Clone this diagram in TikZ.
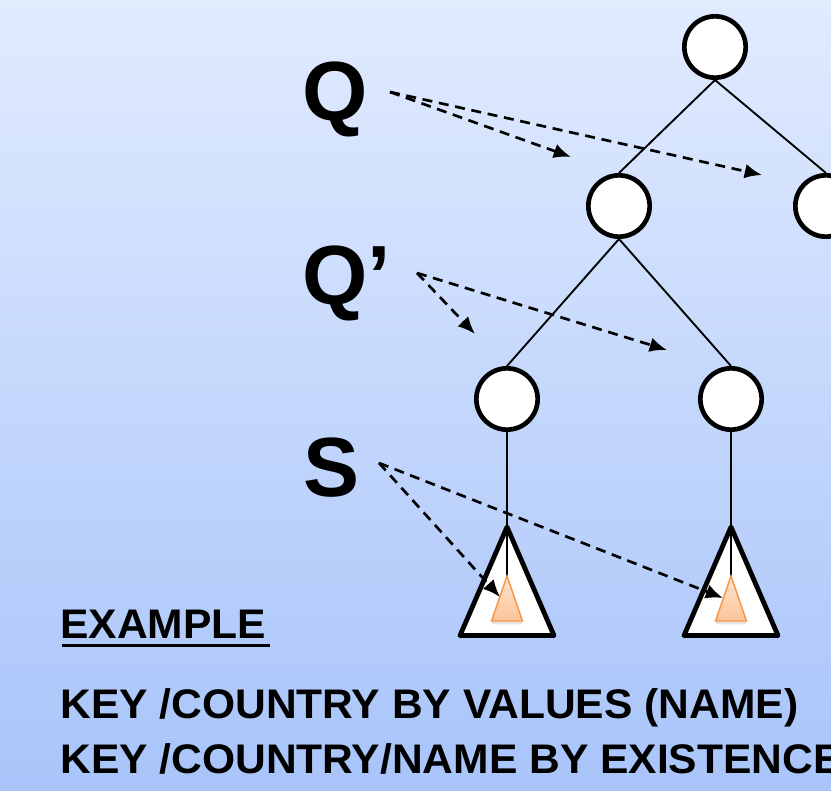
\documentclass[tikz,border=0pt]{standalone}
\usepackage{fontspec}
\setmainfont{Liberation Sans}
\newfontfamily\keyfont{Liberation Sans}[FakeStretch=1.03]
\usetikzlibrary{arrows.meta,shadows}

\definecolor{skytop}{RGB}{225,235,254}
\definecolor{skybot}{RGB}{168,196,250}
\definecolor{peachtop}{RGB}{255,228,206}
\definecolor{peachbot}{RGB}{252,196,152}
\definecolor{peachline}{RGB}{247,150,70}

\tikzset{
	treenode/.style={circle, draw, fill=white, line width=3.5pt, minimum size=46pt, inner sep=0pt},
	treeline/.style={line width=1.4pt},
	subtree/.style={draw, fill=white, line width=3.6pt, line join=round},
	leaf/.style={draw=peachline, line width=1.1pt, top color=peachtop, bottom color=peachbot,
		drop shadow={opacity=.2, shadow xshift=0pt, shadow yshift=-2.5pt}},
	probe/.style={line width=2pt, dash pattern=on 7.5pt off 5pt, -{Latex[length=13pt,width=11pt]}},
	bigletter/.style={font=\fontsize{63}{70}\selectfont\bfseries, inner sep=0pt, anchor=base west},
	keytext/.style={font=\keyfont\fontsize{31}{41}\selectfont\bfseries, inner sep=0pt, anchor=base west}
}

\begin{document}
\begin{tikzpicture}[x=0.75pt, y=-0.75pt]

	\useasboundingbox (0,0) rectangle (831,791);
	\clip (0,0) rectangle (831,791);
	\shade[top color=skytop, bottom color=skybot] (0,0) rectangle (831,791);

	% subtrees below the leaves
	\draw[subtree] (507,527) -- (554,635.5) -- (460,635.5) -- cycle;
	\draw[subtree] (731,527) -- (778,635.5) -- (684,635.5) -- cycle;

	% tree
	\node[treenode] (root) at (715,47) {};
	\node[treenode] (midl) at (619,206) {};
	\node[treenode] (midr) at (826,206) {};
	\node[treenode] (lowl) at (507,399) {};
	\node[treenode] (lowr) at (731,399) {};

	\draw[treeline] (root.south) -- (midl.north);
	\draw[treeline] (root.south) -- (midr.north);
	\draw[treeline] (midl.south) -- (lowl.north);
	\draw[treeline] (midl.south) -- (lowr.north);

	% matched parts
	\coordinate (tipl) at (507,576);
	\coordinate (tipr) at (731,576);
	\draw[treeline] (lowl.south) -- (tipl);
	\draw[treeline] (lowr.south) -- (tipr);
	\path[leaf] (tipl) -- (522.5,621) -- (491.5,621) -- cycle;
	\path[leaf] (tipr) -- (746.5,621) -- (715.5,621) -- cycle;

	% labels
	\node[bigletter] (q) at (302,121) {Q};
	\node[bigletter] (qq) at (302,305) {Q’};
	\node[bigletter] (s) at (303,496) {S};

	\coordinate (qfrom) at (390,92);
	\coordinate (qa) at (571,157);
	\coordinate (qb) at (762,175);
	\coordinate (qqfrom) at (417,273);
	\coordinate (qqa) at (475,334);
	\coordinate (qqb) at (667,350);
	\coordinate (sfrom) at (379,463);
	\coordinate (sa) at (500,597);
	\coordinate (sb) at (723,598);

	\draw[probe] (qfrom) -- (qa);
	\draw[probe] (qfrom) -- (qb);
	\draw[probe] (qqfrom) -- (qqa);
	\draw[probe] (qqfrom) -- (qqb);
	\draw[probe] (sfrom) -- (sa);
	\draw[probe] (sfrom) -- (sb);

	% text below
	\node[keytext] (ex) at (60,638) {EXAMPLE};
	\draw[line width=1.8pt] ([shift={(2,7.5)}]ex.base west) -- ([shift={(4,7.5)}]ex.base east);
	\node[keytext] (k1) at (60,718) {KEY /COUNTRY BY VALUES (NAME)};
	\node[keytext] (k2) at (60,773) {KEY /COUNTRY/NAME BY EXISTENCE};

\end{tikzpicture}
\end{document}
